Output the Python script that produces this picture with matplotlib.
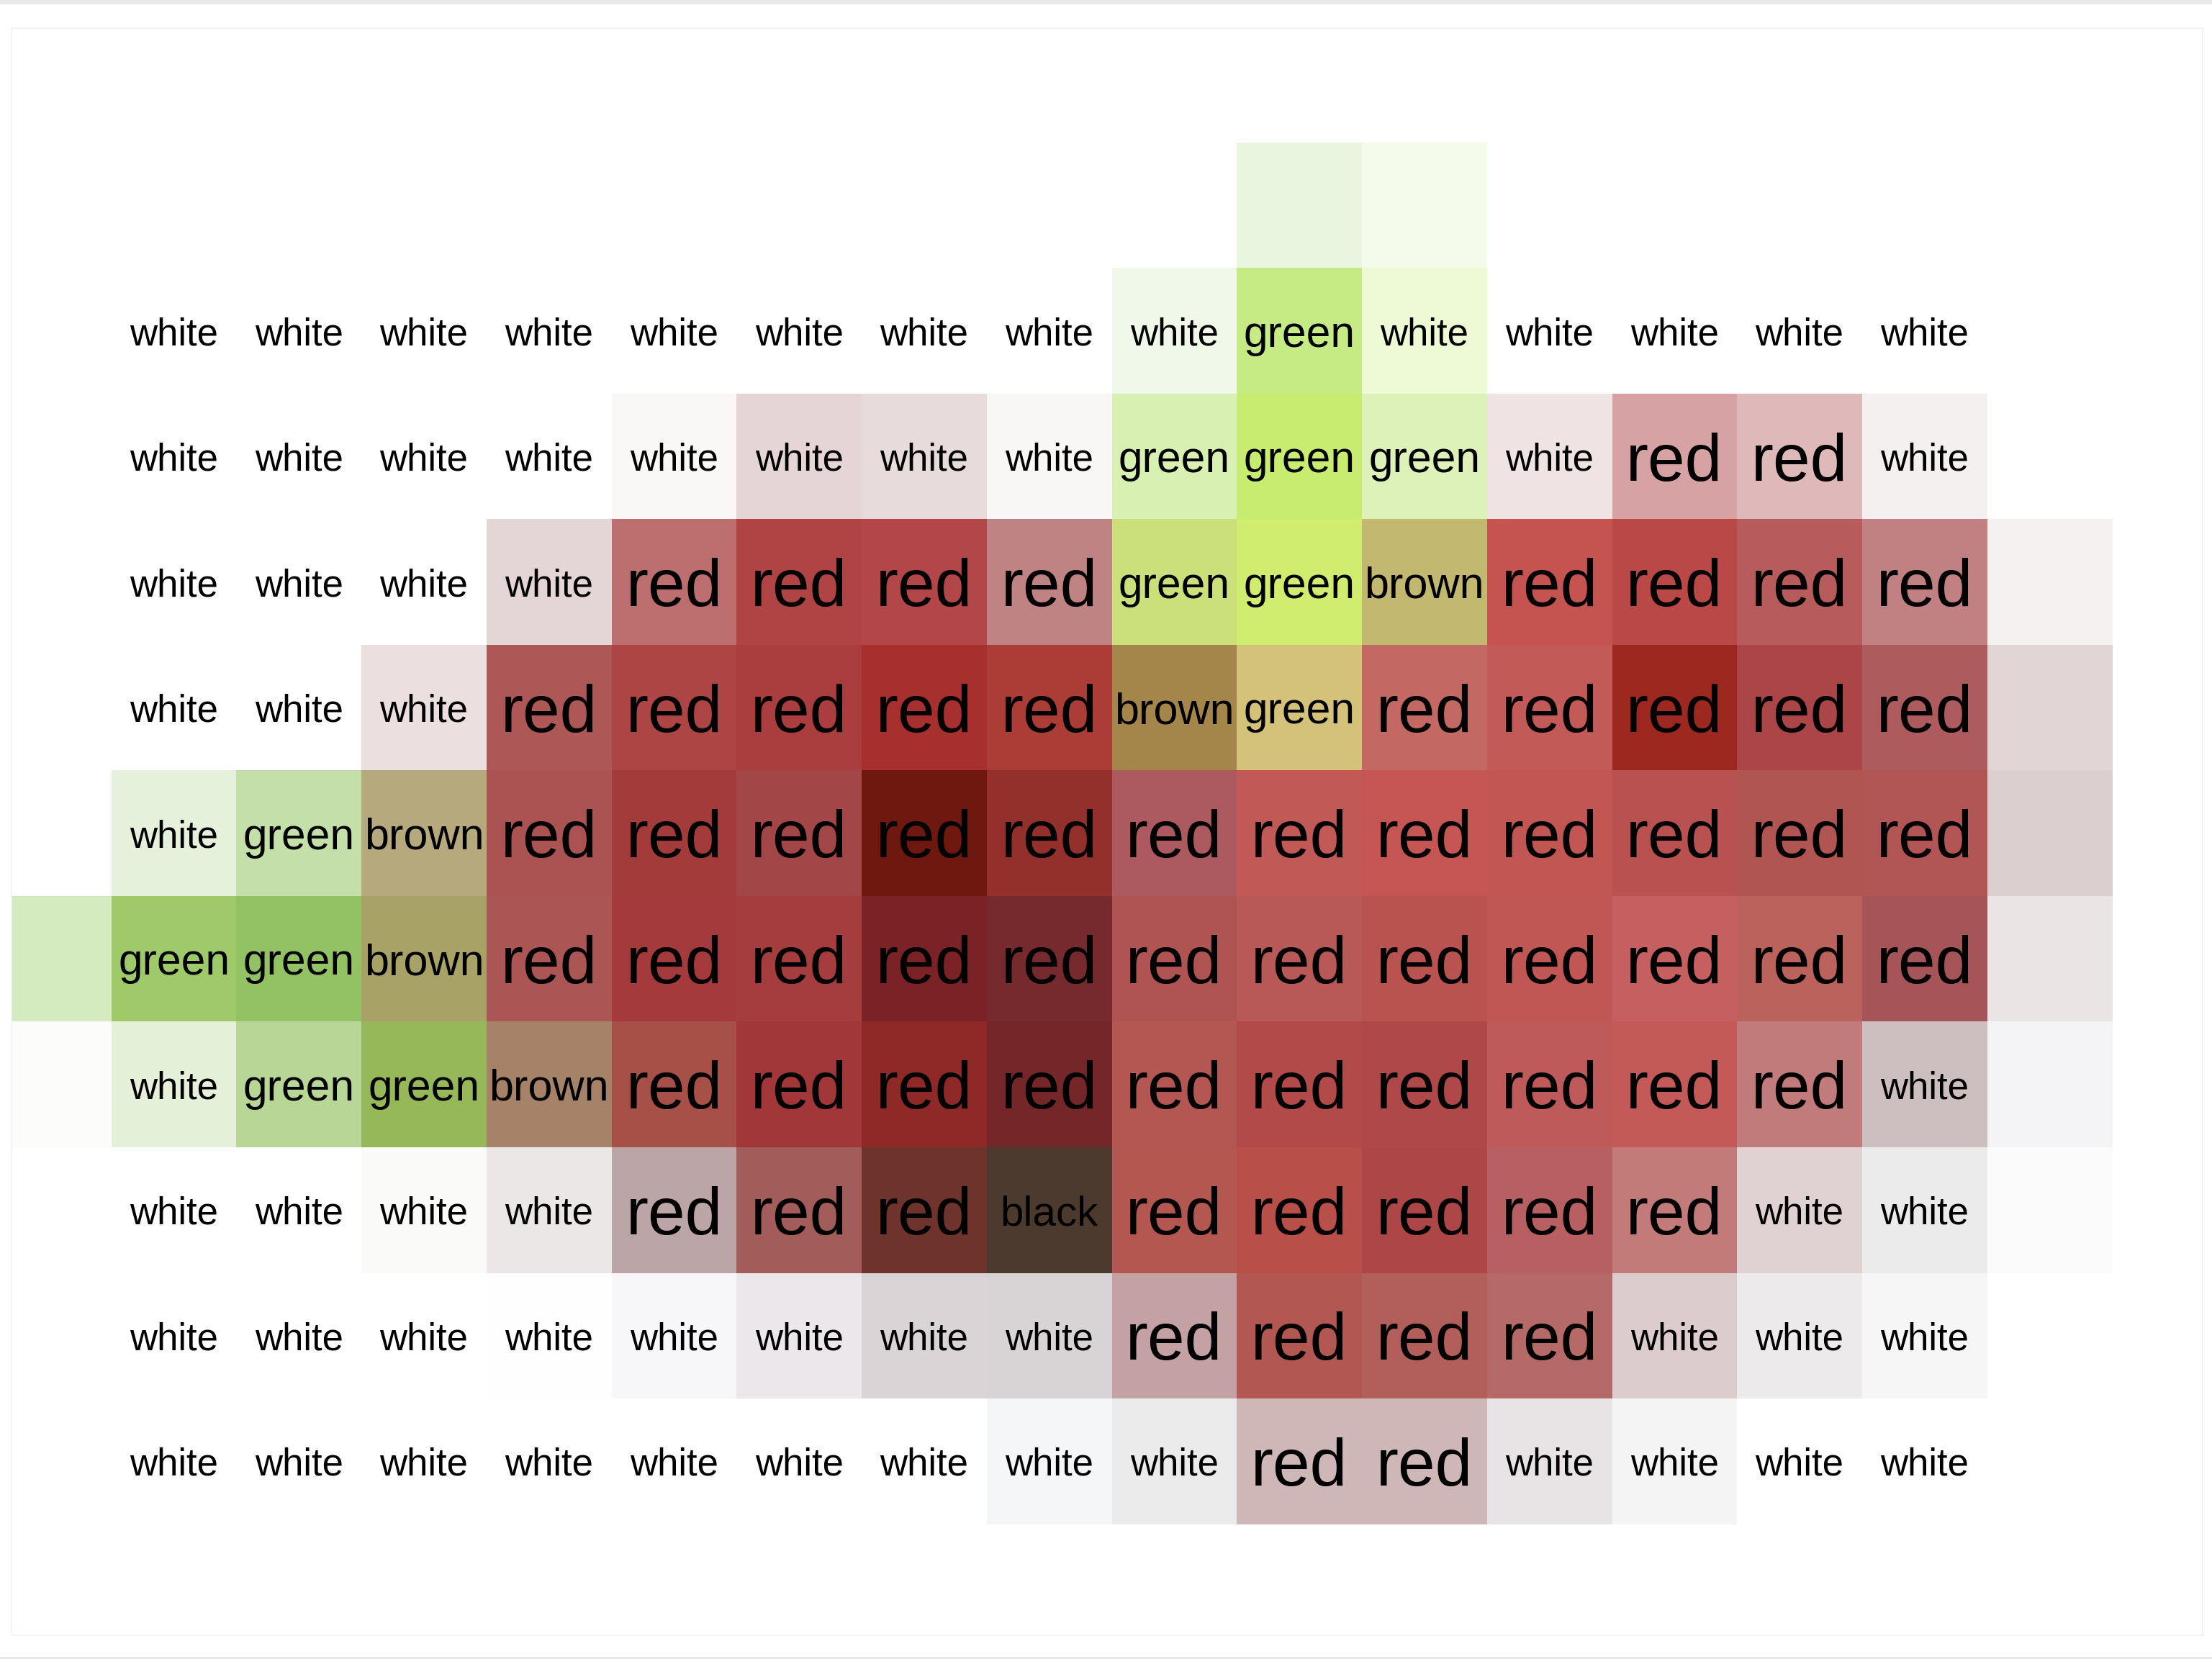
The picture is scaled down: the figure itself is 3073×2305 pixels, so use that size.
import numpy as np
import matplotlib.pyplot as plt
from matplotlib.colors import to_rgb
from matplotlib.patches import Rectangle

# cell colours, one list per grid row (columns 0..16)
row0_colors = ['#ffffff', '#ffffff', '#ffffff', '#ffffff', '#ffffff', '#ffffff', '#ffffff', '#ffffff', '#ffffff',
               '#ffffff', '#e9f5df', '#f4fbeb', '#ffffff', '#ffffff', '#ffffff', '#ffffff', '#ffffff']
row1_colors = ['#ffffff', '#ffffff', '#ffffff', '#ffffff', '#ffffff', '#ffffff', '#ffffff', '#ffffff', '#ffffff',
               '#f0f8ea', '#c6eb85', '#eefad5', '#ffffff', '#ffffff', '#ffffff', '#ffffff', '#ffffff']
row2_colors = ['#ffffff', '#ffffff', '#ffffff', '#ffffff', '#ffffff', '#faf8f7', '#e6d5d6', '#e8dbdc', '#f9f7f6',
               '#d8f1b2', '#c7ec70', '#ddf2b9', '#f0e3e4', '#d6a2a3', '#dfb9ba', '#f5f0f0', '#ffffff']
row3_colors = ['#ffffff', '#ffffff', '#ffffff', '#ffffff', '#e4d6d7', '#bd6f70', '#b04344', '#b24648', '#bf8383',
               '#cbe07b', '#d0ed6f', '#c3b86f', '#c55350', '#b94847', '#b75b5d', '#c18182', '#f5f1f0']
row4_colors = ['#ffffff', '#ffffff', '#ffffff', '#ebdfdf', '#ad5756', '#ad4545', '#aa3d3d', '#a72f2d', '#ab3c36',
               '#a4864a', '#d4c27a', '#c46864', '#c25a57', '#9c2820', '#ac4547', '#ae5b5e', '#e2d5d5']
row5_colors = ['#ffffff', '#e6f1dc', '#c4dfa7', '#b5a97d', '#ab5352', '#a43b3b', '#a24648', '#6e1810', '#93302c',
               '#ac5a5f', '#c15a57', '#c65654', '#c15653', '#b85150', '#b15552', '#b25555', '#dccfcf']
row6_colors = ['#d4eabf', '#9fca6a', '#93c264', '#a8a267', '#ab5655', '#a53a3c', '#a53d3e', '#7b2226', '#772a2d',
               '#b05353', '#b85958', '#b85350', '#c05755', '#c65f60', '#bc625c', '#a55557', '#ebe4e4']
row7_colors = ['#fcfdfb', '#e5f0d9', '#b8d695', '#97b858', '#a68268', '#a65048', '#a2373a', '#8e2928', '#742629',
               '#b45753', '#b24a49', '#ae4849', '#bf5a5a', '#c35a58', '#c27b7b', '#cdbfc0', '#f4f4f6']
row8_colors = ['#ffffff', '#ffffff', '#ffffff', '#fafaf8', '#ebe7e7', '#bca5a6', '#a25d5a', '#6e342b', '#4c3a2e',
               '#b45751', '#b84f48', '#ad4646', '#b86061', '#c37b7a', '#e0d2d3', '#ecebec', '#fbfbfc']
row9_colors = ['#ffffff', '#ffffff', '#ffffff', '#ffffff', '#fefefe', '#f7f7f9', '#ebe7ea', '#dad4d6', '#d8d3d4',
               '#c4a1a3', '#b35753', '#b25e5a', '#b56a67', '#dccccd', '#edeaeb', '#f6f6f6', '#ffffff']
row10_colors = ['#ffffff', '#ffffff', '#ffffff', '#ffffff', '#ffffff', '#ffffff', '#ffffff', '#ffffff', '#f5f6f8',
                '#ecebeb', '#cfb6b7', '#cfb6b7', '#e8e3e5', '#f5f4f5', '#ffffff', '#ffffff', '#ffffff']

# labels for grid rows 1..10, columns 1..15
row1_labels = ['white', 'white', 'white', 'white', 'white', 'white', 'white', 'white', 'white',
               'green', 'white', 'white', 'white', 'white', 'white']
row2_labels = ['white', 'white', 'white', 'white', 'white', 'white', 'white', 'white',
               'green', 'green', 'green', 'white', 'red', 'red', 'white']
row3_labels = ['white', 'white', 'white', 'white', 'red', 'red', 'red', 'red',
               'green', 'green', 'brown', 'red', 'red', 'red', 'red']
row4_labels = ['white', 'white', 'white', 'red', 'red', 'red', 'red', 'red',
               'brown', 'green', 'red', 'red', 'red', 'red', 'red']
row5_labels = ['white', 'green', 'brown', 'red', 'red', 'red', 'red', 'red',
               'red', 'red', 'red', 'red', 'red', 'red', 'red']
row6_labels = ['green', 'green', 'brown', 'red', 'red', 'red', 'red', 'red',
               'red', 'red', 'red', 'red', 'red', 'red', 'red']
row7_labels = ['white', 'green', 'green', 'brown', 'red', 'red', 'red', 'red',
               'red', 'red', 'red', 'red', 'red', 'red', 'white']
row8_labels = ['white', 'white', 'white', 'white', 'red', 'red', 'red', 'black',
               'red', 'red', 'red', 'red', 'red', 'white', 'white']
row9_labels = ['white', 'white', 'white', 'white', 'white', 'white', 'white', 'white',
               'red', 'red', 'red', 'red', 'white', 'white', 'white']
row10_labels = ['white', 'white', 'white', 'white', 'white', 'white', 'white', 'white', 'white',
                'red', 'red', 'white', 'white', 'white', 'white']

color_rows = [row0_colors, row1_colors, row2_colors, row3_colors, row4_colors, row5_colors,
              row6_colors, row7_colors, row8_colors, row9_colors, row10_colors]
label_rows = [row1_labels, row2_labels, row3_labels, row4_labels, row5_labels,
              row6_labels, row7_labels, row8_labels, row9_labels, row10_labels]

label_size = {'white': 19, 'green': 21.8, 'brown': 22, 'black': 21, 'red': 33.5}

rgb = np.array([[to_rgb(c) for c in row] for row in color_rows])
n_rows, n_cols = rgb.shape[:2]

fig = plt.figure(figsize=(15.365, 11.525), dpi=200)
ax = fig.add_axes([0.0052, 0.0143, 0.9906, 0.9688])
ax.imshow(rgb, extent=(0, n_cols, n_rows, 0), interpolation='nearest', aspect='auto')

for r, labels in enumerate(label_rows, start=1):
    for c, lab in enumerate(labels, start=1):
        ax.text(c + 0.5, r + 0.5, lab, ha='center', va='center_baseline',
                fontsize=label_size[lab], family=['Liberation Sans', 'DejaVu Sans'], color='black')

ax.set_xlim(0.201, 17.725)
ax.set_ylim(11.885, -0.911)
ax.set_xticks([])
ax.set_yticks([])
for s in ax.spines.values():
    s.set_color('#f2f2f2')
    s.set_linewidth(0.6)

# thin grey bands at top and bottom edge of the page
fig.patches.append(Rectangle((0, 1 - 6 / 2305), 1, 6 / 2305, transform=fig.transFigure,
                             facecolor='#e9e9e9', edgecolor='none'))
fig.patches.append(Rectangle((0, 0), 1, 3 / 2305, transform=fig.transFigure,
                             facecolor='#e9e9e9', edgecolor='none'))

fig.savefig('out.png', dpi=200)
